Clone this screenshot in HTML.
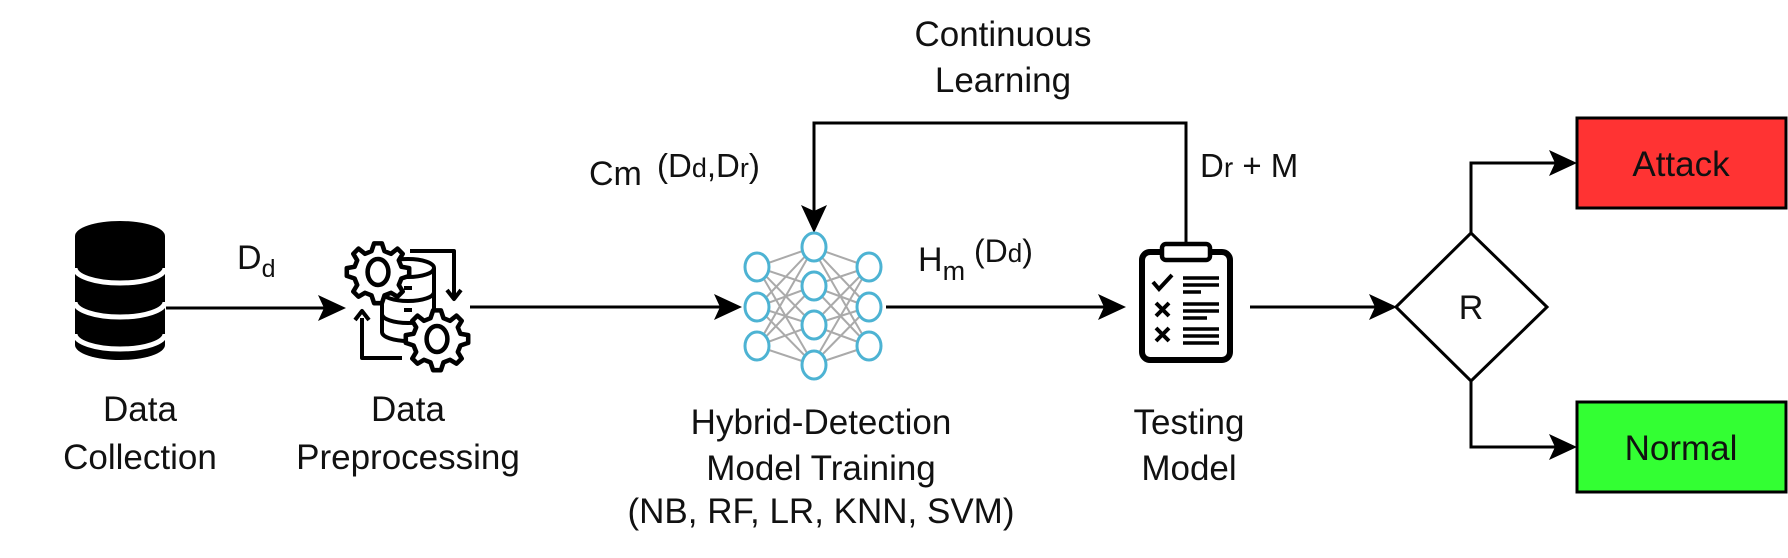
<!DOCTYPE html>
<html><head><meta charset="utf-8"><style>
html,body{margin:0;padding:0;background:#fff;}
svg{display:block;}
text{font-family:"Liberation Sans",Arial,sans-serif;fill:#111;}
</style></head><body>
<svg width="1788" height="558" viewBox="0 0 1788 558" xmlns="http://www.w3.org/2000/svg">
<g stroke="#000" stroke-width="3" fill="none">
<line x1="166" y1="308" x2="332" y2="308"/>
<line x1="470" y1="307" x2="728" y2="307"/>
<line x1="886" y1="307" x2="1112" y2="307"/>
<line x1="1250" y1="307" x2="1384" y2="307"/>
<polyline points="1186,242 1186,123 814,123 814,220"/>
<polyline points="1471,233 1471,163 1564,163"/>
<polyline points="1471,381 1471,447 1564,447"/>
<polygon points="1396,307 1471,233 1547,307 1471,381" fill="#fff"/>
</g>
<g fill="#000">
<path d="M346,308 L318,295 L324,308 L318,321 Z"/>
<path d="M742,307 L714,294 L720,307 L714,320 Z"/>
<path d="M1126,307 L1098,294 L1104,307 L1098,320 Z"/>
<path d="M1397,307 L1369,294 L1375,307 L1369,320 Z"/>
<path d="M814,233 L801,205 L814,211 L827,205 Z"/>
<path d="M1577,163 L1549,150 L1555,163 L1549,176 Z"/>
<path d="M1577,447 L1549,434 L1555,447 L1549,460 Z"/>
</g>
<rect x="1577" y="118" width="209" height="90" fill="#ff3333" stroke="#000" stroke-width="3"/>
<rect x="1577" y="402" width="209" height="90" fill="#33ff33" stroke="#000" stroke-width="3"/>
<text x="1681" y="176" font-size="35" text-anchor="middle">Attack</text>
<text x="1681" y="460" font-size="35" text-anchor="middle">Normal</text>
<text x="1471" y="319" font-size="34" text-anchor="middle">R</text>

<g>
<path d="M75,236 A45,15 0 0 1 165,236 L165,345 A45,15 0 0 1 75,345 Z" fill="#000"/>
<path d="M75,268 A45,15 0 0 0 165,268" stroke="#fff" stroke-width="5" fill="none"/>
<path d="M75,302 A45,15 0 0 0 165,302" stroke="#fff" stroke-width="5" fill="none"/>
<path d="M75,334 A45,15 0 0 0 165,334" stroke="#fff" stroke-width="5" fill="none"/>
</g>

<g stroke="#000" stroke-width="4" fill="none" stroke-linejoin="round">
<path d="M382,268 L382,332 A26,9 0 0 0 434,332 L434,268"/>
<ellipse cx="408" cy="268" rx="26" ry="9" fill="#fff"/>
<path d="M382,292 A26,9 0 0 0 434,292"/>
<path d="M382,314 A26,9 0 0 0 434,314"/>
<line x1="404" y1="288" x2="412" y2="288"/>
<line x1="404" y1="310" x2="412" y2="310"/>
<polyline points="410,251 454,251 454,298"/>
<polyline points="402,358 362,358 362,318"/>
<g fill="#fff" stroke-width="3.5">
<g transform="translate(378,272) scale(1.3)">
<path d="M-3,-22 l6,0 2,6 5,2 5,-4 4,4 -3,5 2,5 6,1 0,6 -6,2 -2,5 3,5 -4,4 -5,-3 -5,2 -2,6 -6,0 -2,-6 -5,-2 -5,3 -4,-4 3,-5 -2,-5 -6,-2 0,-6 6,-1 2,-5 -3,-5 4,-4 5,4 5,-2 Z"/>
<ellipse cx="0" cy="0" rx="8" ry="10"/>
</g>
<g transform="translate(437,339) scale(1.3)">
<path d="M-3,-22 l6,0 2,6 5,2 5,-4 4,4 -3,5 2,5 6,1 0,6 -6,2 -2,5 3,5 -4,4 -5,-3 -5,2 -2,6 -6,0 -2,-6 -5,-2 -5,3 -4,-4 3,-5 -2,-5 -6,-2 0,-6 6,-1 2,-5 -3,-5 4,-4 5,4 5,-2 Z"/>
<ellipse cx="0" cy="0" rx="8" ry="10"/>
</g>
</g>
<path d="M355,320 l7,-9 7,9"/>
<path d="M447,290 l7,9 7,-9"/>
</g>

<g stroke="#aaa" stroke-width="2">
<g id="e">
<line x1="757" y1="267" x2="814" y2="247"/><line x1="757" y1="267" x2="814" y2="286"/><line x1="757" y1="267" x2="814" y2="325"/><line x1="757" y1="267" x2="814" y2="365"/>
<line x1="757" y1="307" x2="814" y2="247"/><line x1="757" y1="307" x2="814" y2="286"/><line x1="757" y1="307" x2="814" y2="325"/><line x1="757" y1="307" x2="814" y2="365"/>
<line x1="757" y1="346" x2="814" y2="247"/><line x1="757" y1="346" x2="814" y2="286"/><line x1="757" y1="346" x2="814" y2="325"/><line x1="757" y1="346" x2="814" y2="365"/>
</g>
<use href="#e" transform="translate(1626,0) scale(-1,1)"/>
</g>
<g stroke="#4db3d3" stroke-width="3" fill="#fff">
<ellipse cx="757" cy="267" rx="12" ry="14"/><ellipse cx="757" cy="307" rx="12" ry="14"/><ellipse cx="757" cy="346" rx="12" ry="14"/>
<ellipse cx="869" cy="267" rx="12" ry="14"/><ellipse cx="869" cy="307" rx="12" ry="14"/><ellipse cx="869" cy="346" rx="12" ry="14"/>
<ellipse cx="814" cy="247" rx="12" ry="14"/><ellipse cx="814" cy="286" rx="12" ry="14"/><ellipse cx="814" cy="325" rx="12" ry="14"/><ellipse cx="814" cy="365" rx="12" ry="14"/>
</g>

<g stroke="#000" fill="none">
<rect x="1142" y="252" width="88" height="108" rx="8" stroke-width="6"/>
<rect x="1162" y="244" width="48" height="16" rx="4" stroke-width="4.5" fill="#fff"/>
<path d="M1153,282 l6,7 13,-14" stroke-width="4"/>
<path d="M1156,303 l13,13 M1169,303 l-13,13" stroke-width="4"/>
<path d="M1156,328 l13,13 M1169,328 l-13,13" stroke-width="4"/>
<g stroke-width="3.5">
<line x1="1183" y1="278" x2="1219" y2="278"/><line x1="1183" y1="285" x2="1219" y2="285"/><line x1="1183" y1="292" x2="1201" y2="292"/>
<line x1="1183" y1="304" x2="1219" y2="304"/><line x1="1183" y1="311" x2="1219" y2="311"/><line x1="1183" y1="318" x2="1207" y2="318"/>
<line x1="1183" y1="329" x2="1219" y2="329"/><line x1="1183" y1="336" x2="1219" y2="336"/><line x1="1183" y1="343" x2="1219" y2="343"/>
</g>
</g>

<g font-size="35" text-anchor="middle">
<text x="140" y="421">Data</text>
<text x="140" y="469">Collection</text>
<text x="408" y="421">Data</text>
<text x="408" y="469">Preprocessing</text>
<text x="821" y="434">Hybrid-Detection</text>
<text x="821" y="480">Model Training</text>
<text x="821" y="523">(NB, RF, LR, KNN, SVM)</text>
<text x="1189" y="434">Testing</text>
<text x="1189" y="480">Model</text>
<text x="1003" y="46">Continuous</text>
<text x="1003" y="92">Learning</text>
</g>
<text x="237" y="269" font-size="34">D<tspan font-size="25" dy="8">d</tspan></text>
<text x="589" y="185" font-size="34">Cm</text>
<text x="657" y="177" font-size="33">(D<tspan font-size="27">d</tspan>,D<tspan font-size="27">r</tspan>)</text>
<text x="918" y="271" font-size="34">H<tspan font-size="27" dy="9">m</tspan></text>
<text x="974" y="262" font-size="32">(D<tspan font-size="26">d</tspan>)</text>
<text x="1200" y="177" font-size="33">D<tspan font-size="28">r</tspan> + M</text>
</svg>
</body></html>
